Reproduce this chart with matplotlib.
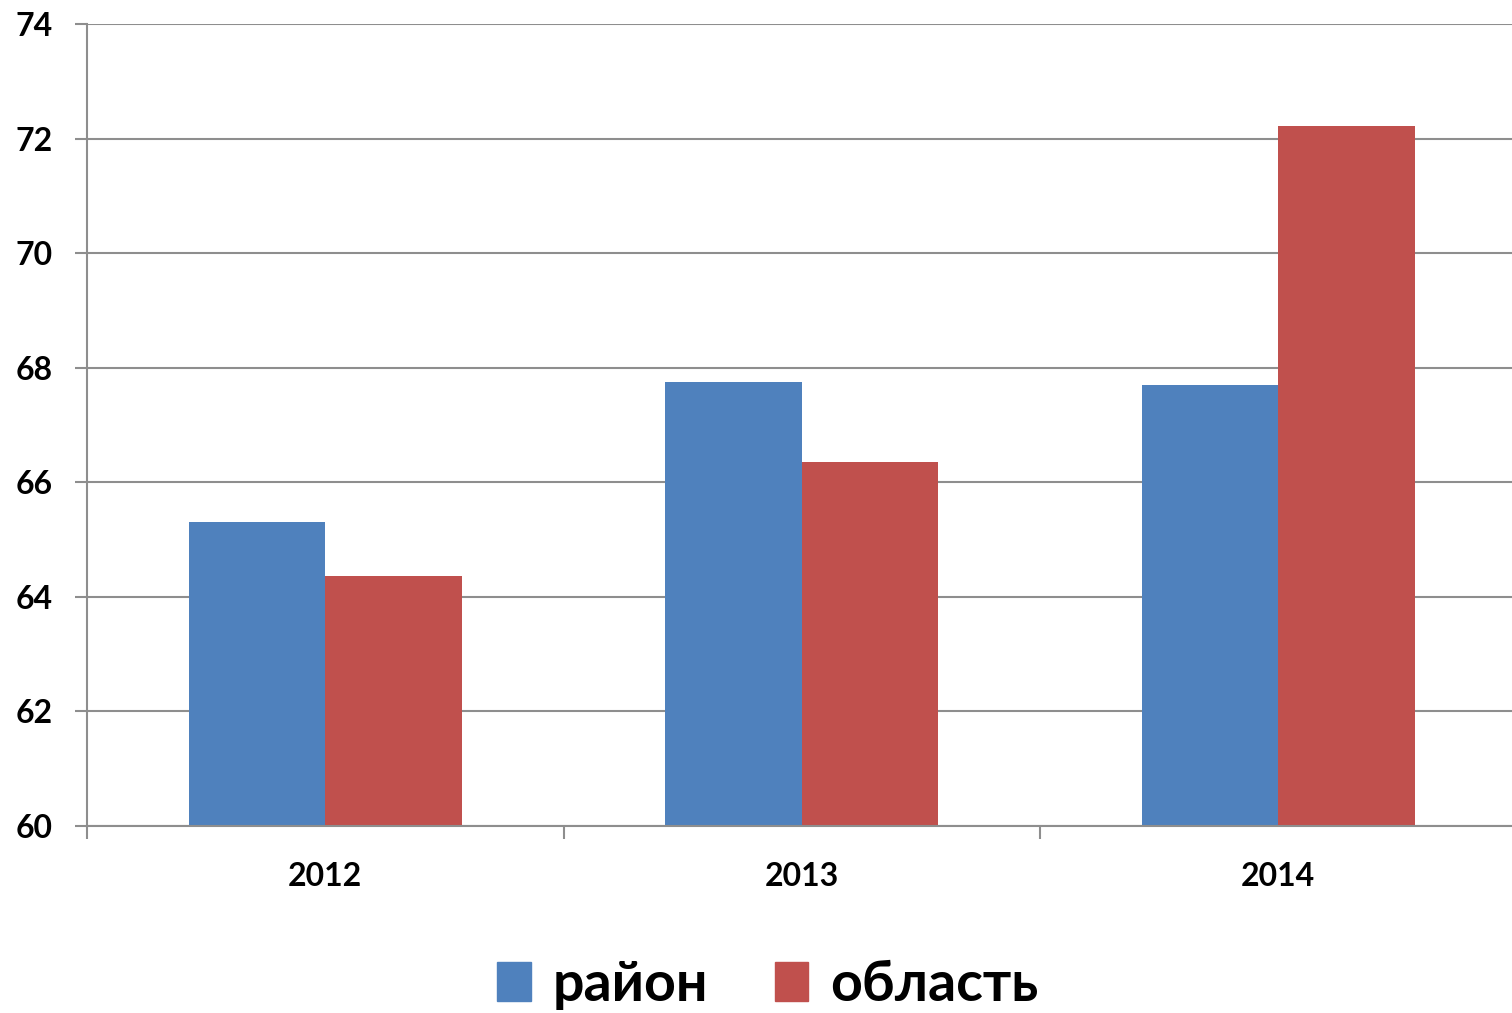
import matplotlib.pyplot as plt
from matplotlib.patches import Patch
from matplotlib.ticker import FixedLocator

years = ["2012", "2013", "2014"]
rayon = [65.3, 67.75, 67.7]
oblast = [64.37, 66.35, 72.22]
series_names = ["район", "область"]
yticks = [60, 62, 64, 66, 68, 70, 72, 74]

blue = "#4F81BD"
red = "#C0504D"
gray = "#8E8E8E"

plt.rcParams['font.family'] = ['Lato', 'Open Sans', 'DejaVu Sans']
plt.rcParams['font.weight'] = 'bold'

fig = plt.figure(figsize=(15.12, 10.13), dpi=100)
ax = fig.add_axes([87/1512, 1-826/1013, 1429.5/1512, 802/1013])

x = list(range(len(years)))
w = 0.286
ax.bar([i - w for i in x], rayon, width=w, align='edge', color=blue, zorder=2)
ax.bar(x, oblast, width=w, align='edge', color=red, zorder=2)

ax.set_ylim(60, 74)
ax.set_xlim(-0.5, 2.5)
ax.set_yticks(yticks)
ax.set_yticklabels([str(v) for v in yticks], fontsize=23, fontweight='bold')
ax.yaxis.grid(True, color=gray, linewidth=1.5, zorder=0)
ax.set_axisbelow(True)

ax.set_xticks(x)
ax.set_xticklabels(years, fontsize=23, fontweight='bold')
ax.xaxis.set_minor_locator(FixedLocator([-0.5, 0.5, 1.5, 2.5]))
ax.tick_params(axis='x', which='major', length=0, pad=26)
ax.tick_params(axis='x', which='minor', length=9, width=1.5, color=gray, direction='out')
ax.tick_params(axis='y', length=9, width=1.5, color=gray, direction='out', pad=16)

for s in ['top', 'right']:
    ax.spines[s].set_visible(False)
for s in ['left', 'bottom']:
    ax.spines[s].set_color(gray)
    ax.spines[s].set_linewidth(1.5)

handles = [Patch(color=blue, label=series_names[0]), Patch(color=red, label=series_names[1])]
fig.legend(handles=handles, loc='center', bbox_to_anchor=(768/1512, 1-985/1013), ncol=2,
           frameon=False, prop={'size': 40, 'weight': 'bold'},
           handlelength=0.6, handleheight=0.7, handletextpad=0.4, columnspacing=1.2)

fig.savefig("out.png", dpi=100)
